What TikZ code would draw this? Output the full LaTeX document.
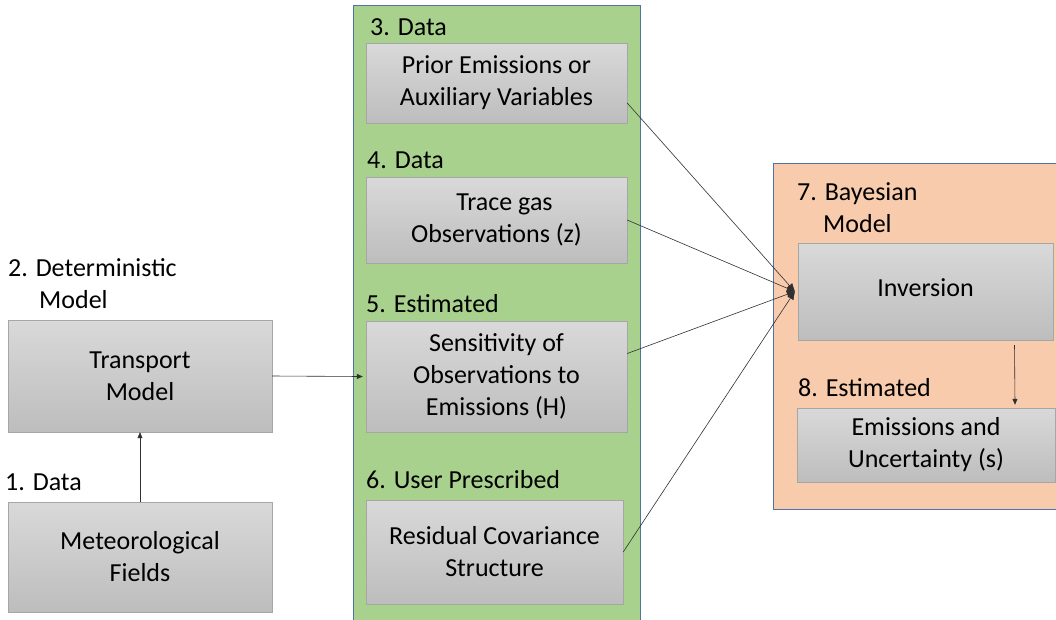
\documentclass[tikz,border=0pt]{standalone}
\usepackage{fontspec}
\setmainfont{Carlito}
\usetikzlibrary{arrows.meta,positioning}
\definecolor{FluxGreen}{HTML}{A9D18E}
\definecolor{FluxPeach}{HTML}{F8CBAD}
\definecolor{FluxEdge}{HTML}{4F72A8}
\definecolor{FluxTop}{HTML}{D9D9D9}
\definecolor{FluxBottom}{HTML}{BDBDBD}
\definecolor{FluxRim}{HTML}{A6A6A6}
\definecolor{FluxInk}{HTML}{303030}
\newcommand{\fluxfont}{\fontsize{26}{32}\selectfont}
\tikzset{
  panel/.style={draw=FluxEdge,line width=0.8pt},
  gbox/.style={draw=FluxRim,top color=FluxTop,bottom color=FluxBottom,align=center,
    inner sep=0pt,font=\fluxfont},
  tag/.style={anchor=base west,inner sep=0pt,align=left,font=\fluxfont},
  link/.style={-{Triangle[length=6pt,width=5pt]},draw=FluxInk,line width=0.6pt},
  merge/.style={-{Triangle[length=8pt,width=7pt]},draw=FluxInk,line width=0.6pt}
}

\begin{document}
\begin{tikzpicture}[x=1pt,y=-1pt]
  \useasboundingbox (0,0) rectangle (1056,619);
  % panels
  \fill[FluxGreen] (353,5) rectangle (640,630);
  \draw[panel] (353,630) -- (353,5) -- (640,5) -- (640,630);
  \fill[FluxPeach] (773,163) rectangle (1070,509);
  \draw[panel] (1070,163) -- (773,163) -- (773,509) -- (1070,509);
  % boxes
  \node[gbox,minimum width=264pt,minimum height=112pt] (transport) at (140,376) {Transport\\Model};
  \node[gbox,minimum width=264pt,minimum height=110pt] (met) at (140,557) {Meteorological\\Fields};
  \node[gbox,minimum width=261pt,minimum height=80pt] (prior) at (496.5,83) {\raisebox{-3pt}{Prior Emissions or}\\\raisebox{-3pt}{Auxiliary Variables}};
  \node[gbox,minimum width=261pt,minimum height=86pt] (trace) at (496.5,220) {\hspace*{16pt}Trace gas\\Observations (z)};
  \node[gbox,minimum width=261pt,minimum height=111pt] (sens) at (496.5,376.5) {Sensitivity of\\Observations to\\Emissions (H)};
  \node[gbox,minimum width=257pt,minimum height=104pt] (resid) at (494.5,552) {Residual Covariance\\Structure};
  \node[gbox,minimum width=255pt,minimum height=97pt] (inv) at (925.5,291.5) {\raisebox{8pt}{Inversion}};
  \node[gbox,minimum width=258pt,minimum height=74pt] (emis) at (926,445) {Emissions and\\Uncertainty (s)};
  % labels (base = last line)
  \node[tag] (t1) at (5,490) {1. Data};
  \node[tag] (t2) at (8,308) {2. Deterministic\\\hspace*{31pt}Model};
  \node[tag] (t3) at (370,35) {3. Data};
  \node[tag] (t4) at (367,168) {4. Data};
  \node[tag] (t5) at (366,312) {5. Estimated};
  \node[tag] (t6) at (366,488) {6. User Prescribed};
  \node[tag] (t7) at (797,232) {7. Bayesian\\\hspace*{26pt}Model};
  \node[tag] (t8) at (798,396) {8. Estimated};
  % arrows
  \draw[link] (met.north) -- (transport.south);
  \draw[link] (transport.east) -- ([xshift=-3pt]sens.west);
  \draw[link] ([xshift=89pt,yshift=-5pt]inv.south) -- ([xshift=89pt,yshift=3pt]emis.north);
  \draw[merge] ([yshift=-20pt]prior.east) -- ([xshift=-3pt]inv.west);
  \draw[merge] (trace.east) -- ([xshift=-3pt]inv.west);
  \draw[merge] ([yshift=23pt]sens.east) -- ([xshift=-3pt]inv.west);
  \draw[merge] (resid.east) -- ([xshift=-3pt]inv.west);
\end{tikzpicture}
\end{document}
